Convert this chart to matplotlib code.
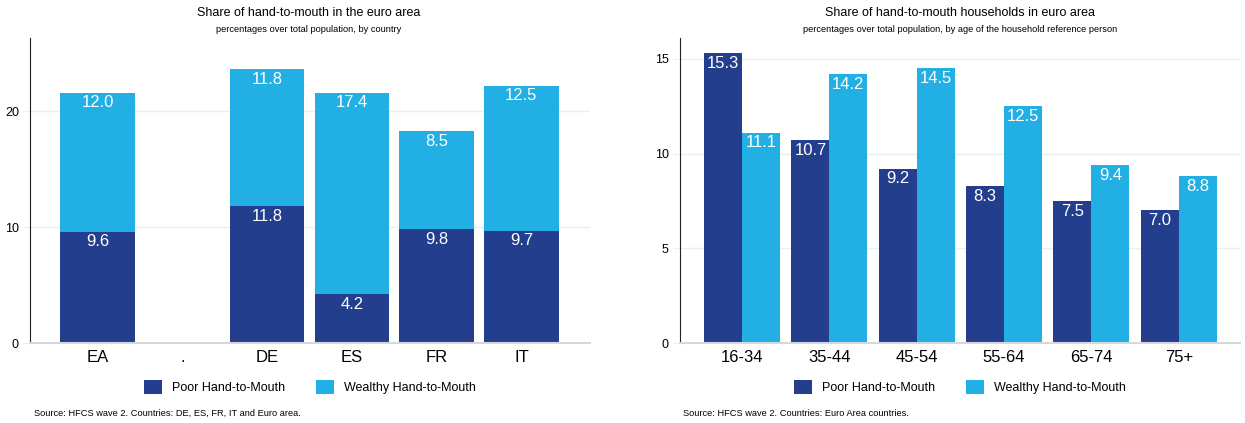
import matplotlib.pyplot as plt
import numpy as np

plt.rcParams['font.family'] = ['Liberation Sans', 'DejaVu Sans']

poor_color = '#243e8e'
wealthy_color = '#22b0e4'
grid_color = '#e9f0f3'

# left chart: by country
countries = ['EA', '.', 'DE', 'ES', 'FR', 'IT']
poor_country = [9.6, np.nan, 11.8, 4.2, 9.8, 9.7]
wealthy_country = [12.0, np.nan, 11.8, 17.4, 8.5, 12.5]

# right chart: by age
age_groups = ['16-34', '35-44', '45-54', '55-64', '65-74', '75+']
poor_age = [15.3, 10.7, 9.2, 8.3, 7.5, 7.0]
wealthy_age = [11.1, 14.2, 14.5, 12.5, 9.4, 8.8]

fig = plt.figure(figsize=(12.45, 4.23), dpi=100)
ax1 = fig.add_axes([30/1245, 80/423, 560/1245, 305/423])
ax2 = fig.add_axes([680/1245, 80/423, 560/1245, 305/423])


def style_axes(ax, yticks):
    ax.set_yticks(yticks)
    ax.yaxis.grid(True, color=grid_color, linewidth=1)
    ax.set_axisbelow(True)
    for s in ['top', 'right']:
        ax.spines[s].set_visible(False)
    ax.spines['left'].set_color('#222222')
    ax.spines['left'].set_linewidth(0.8)
    ax.spines['bottom'].set_color('#d4d8dc')
    ax.spines['bottom'].set_linewidth(1.5)
    ax.tick_params(axis='y', length=5, color=grid_color, labelsize=9, pad=3)
    ax.tick_params(axis='x', length=0, labelsize=12, pad=5)


def label_inside(ax, xs, bottoms, heights):
    for x, b, h in zip(xs, bottoms, heights):
        if np.isnan(h):
            continue
        ax.annotate(f'{h:.1f}', (x, b + h), xytext=(0, -2), textcoords='offset points',
                    ha='center', va='top', color='white', fontsize=12)


# left
x1 = np.arange(len(countries))
ax1.set_ylim(0, 26.3)
ax1.set_xlim(-0.80, 5.81)
ax1.bar(x1, poor_country, width=0.88, color=poor_color, label='Poor Hand-to-Mouth')
ax1.bar(x1, wealthy_country, width=0.88, bottom=poor_country, color=wealthy_color,
        label='Wealthy Hand-to-Mouth')
style_axes(ax1, [0, 10, 20])
ax1.set_xticks(x1)
ax1.set_xticklabels(countries)
label_inside(ax1, x1, [0] * 6, poor_country)
label_inside(ax1, x1, poor_country, wealthy_country)
ax1.legend(loc='center', bbox_to_anchor=(0.5, -0.145), ncol=2, frameon=False,
           fontsize=9, handlelength=1.4, handleheight=1.4, columnspacing=2.5)

# right
x2 = np.arange(len(age_groups))
w = 0.435
ax2.set_ylim(0, 16.1)
ax2.set_xlim(-0.71, 5.70)
ax2.bar(x2 - w / 2, poor_age, width=w, color=poor_color, label='Poor Hand-to-Mouth')
ax2.bar(x2 + w / 2, wealthy_age, width=w, color=wealthy_color, label='Wealthy Hand-to-Mouth')
style_axes(ax2, [0, 5, 10, 15])
ax2.set_xticks(x2)
ax2.set_xticklabels(age_groups)
label_inside(ax2, x2 - w / 2, [0] * 6, poor_age)
label_inside(ax2, x2 + w / 2, [0] * 6, wealthy_age)
ax2.legend(loc='center', bbox_to_anchor=(0.5, -0.145), ncol=2, frameon=False,
           fontsize=9, handlelength=1.4, handleheight=1.4, columnspacing=2.5)

# titles and notes
fig.text(309/1245, 1 - 13/423, 'Share of hand-to-mouth in the euro area',
         ha='center', va='center', fontsize=9)
fig.text(309/1245, 1 - 29/423, 'percentages over total population, by country',
         ha='center', va='center', fontsize=6.7)
fig.text(960/1245, 1 - 13/423, 'Share of hand-to-mouth households in euro area',
         ha='center', va='center', fontsize=9)
fig.text(960/1245, 1 - 29/423,
         'percentages over total population, by age of the household reference person',
         ha='center', va='center', fontsize=6.7)
fig.text(34/1245, 1 - 413/423, 'Source: HFCS wave 2. Countries: DE, ES, FR, IT and Euro area.',
         ha='left', va='center', fontsize=6.7)
fig.text(683/1245, 1 - 413/423, 'Source: HFCS wave 2. Countries: Euro Area countries.',
         ha='left', va='center', fontsize=6.7)

fig.savefig('out.png', dpi=100)
